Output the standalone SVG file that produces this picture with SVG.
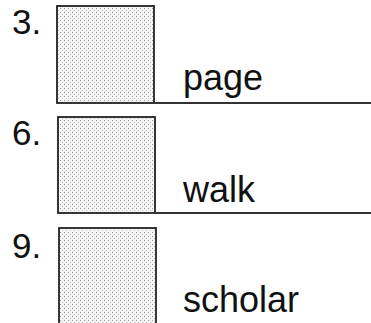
<svg xmlns="http://www.w3.org/2000/svg" width="371" height="323" viewBox="0 0 371 323">
<style>
.num{font-family:"Liberation Sans",Arial,sans-serif;font-size:35px;fill:#111}
.word{font-family:"Liberation Sans",Arial,sans-serif;font-size:36px;fill:#111}
.box{fill:url(#stip);stroke:#222;stroke-width:1.8}
.line{stroke:#333;stroke-width:1.8;fill:none}
</style>
<defs>
<pattern id="stip" width="4" height="4" patternUnits="userSpaceOnUse">
<rect width="4" height="4" fill="#f5f5f5"/>
<rect x="0" y="0" width="1" height="1" fill="#999"/>
<rect x="2" y="2" width="1" height="1" fill="#bbb"/>
</pattern>
</defs>
<rect width="371" height="323" fill="#fff"/>
<g id="item3">
<text class="num" x="12" y="34">3.</text>
<rect class="box" x="57" y="6" width="97" height="97"/>
<text class="word" x="183" y="90">page</text>
</g>
<g id="item6">
<text class="num" x="12" y="145">6.</text>
<rect class="box" x="58" y="117" width="97" height="96"/>
<text class="word" x="183" y="202">walk</text>
</g>
<g id="item9">
<text class="num" x="12" y="258">9.</text>
<rect class="box" x="59" y="228" width="97" height="100"/>
<text class="word" x="183" y="312">scholar</text>
</g>
<g id="connectors">
<line class="line" x1="154" y1="103" x2="371" y2="103"/>
<line class="line" x1="155" y1="213" x2="371" y2="213"/>
</g>
</svg>
